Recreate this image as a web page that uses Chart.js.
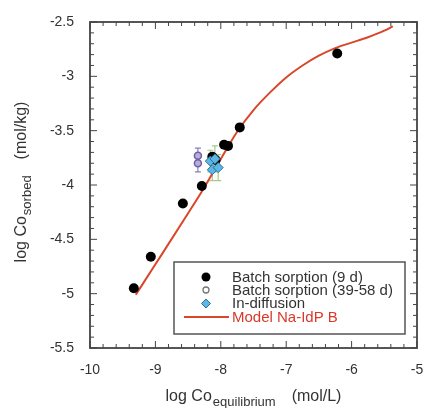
<!DOCTYPE html>
<html><head><meta charset="utf-8">
<script src="https://cdn.jsdelivr.net/npm/chart.js@4"></script>
<style>html,body{margin:0;padding:0;background:#fff}canvas{display:block}</style>
</head><body>
<canvas id="c" width="425" height="408"></canvas>
<script>
// ---- data ----
const batch9X = [-9.33, -9.07, -8.58, -8.29, -8.13, -8.08, -7.95, -7.89, -7.71, -6.22];
const batch9Y = [-4.95, -4.66, -4.17, -4.01, -3.74, -3.77, -3.63, -3.64, -3.47, -2.79];

const batch39X = [-8.35, -8.35];
const batch39Y = [-3.73, -3.80];
const batch39Err = [0.07, 0.08];

const inDiffX = [-8.16, -8.09, -8.13, -8.04];
const inDiffY = [-3.78, -3.76, -3.86, -3.84];
const inDiffErr = [0.10, 0.12, 0.10, 0.12];

const modelX = [-9.30, -9.00, -8.50, -8.25, -8.00, -7.75, -7.50, -7.25, -7.00, -6.75, -6.50, -6.25, -6.00, -5.75, -5.50, -5.37];
const modelY = [-5.01, -4.73, -4.26, -4.02, -3.76, -3.51, -3.31, -3.15, -3.01, -2.90, -2.81, -2.74, -2.69, -2.64, -2.58, -2.54];

const legendLabels = ['Batch sorption (9 d)', 'Batch sorption (39-58 d)', 'In-diffusion', 'Model Na-IdP B'];
const xTitle = ['log Co', 'equilibrium', '(mol/L)'];
const yTitle = ['log Co', 'sorbed', '(mol/kg)'];

const FONT = '"Liberation Sans", Arial, Helvetica, sans-serif';
const pts = (xs, ys) => xs.map((v, i) => ({x: v, y: ys[i]}));

const errorBars = {
  id: 'errorBars',
  beforeDatasetsDraw(chart) {
    const {ctx, scales: {x, y}} = chart;
    const draw = (xs, ys, es, color) => {
      ctx.save();
      ctx.strokeStyle = color; ctx.lineWidth = 1.2;
      ctx.beginPath();
      xs.forEach((v, i) => {
        const px = x.getPixelForValue(v);
        const p1 = y.getPixelForValue(ys[i] + es[i]);
        const p2 = y.getPixelForValue(ys[i] - es[i]);
        ctx.moveTo(px, p1); ctx.lineTo(px, p2);
        ctx.moveTo(px - 3, p1); ctx.lineTo(px + 3, p1);
        ctx.moveTo(px - 3, p2); ctx.lineTo(px + 3, p2);
      });
      ctx.stroke();
      ctx.restore();
    };
    draw(inDiffX, inDiffY, inDiffErr, '#a9c98c');
    draw(batch39X, batch39Y, batch39Err, '#8c7cbc');
  }
};

const frameTicks = {
  id: 'frameTicks',
  afterDatasetsDraw(chart) {
    const {ctx, chartArea: a, scales: {x, y}} = chart;
    ctx.save();
    ctx.strokeStyle = '#444';
    ctx.lineWidth = 1;
    ctx.beginPath();
    const xMinor = 0.2, yMinor = 0.1;
    for (let i = 0; i <= Math.round((x.max - x.min) / xMinor); i++) {
      const px = x.getPixelForValue(x.min + i * xMinor);
      const L = (i % 5 === 0) ? 7 : 4;
      ctx.moveTo(px, a.bottom); ctx.lineTo(px, a.bottom - L);
      ctx.moveTo(px, a.top); ctx.lineTo(px, a.top + L);
    }
    for (let i = 0; i <= Math.round((y.max - y.min) / yMinor); i++) {
      const py = y.getPixelForValue(y.min + i * yMinor);
      const L = (i % 5 === 0) ? 7 : 4;
      ctx.moveTo(a.left, py); ctx.lineTo(a.left + L, py);
      ctx.moveTo(a.right, py); ctx.lineTo(a.right - L, py);
    }
    ctx.stroke();
    ctx.lineWidth = 1.8;
    ctx.strokeRect(a.left, a.top, a.right - a.left, a.bottom - a.top);
    ctx.restore();
  }
};

function subTitle(ctx, parts, mainSize, subSize, gap) {
  ctx.font = mainSize + 'px ' + FONT;
  const w1 = ctx.measureText(parts[0]).width;
  const w3 = ctx.measureText(parts[2]).width;
  ctx.font = subSize + 'px ' + FONT;
  const w2 = ctx.measureText(parts[1]).width;
  const total = w1 + 1 + w2 + gap + w3;
  let cx = -total / 2;
  ctx.textAlign = 'left'; ctx.textBaseline = 'alphabetic';
  ctx.font = mainSize + 'px ' + FONT;
  ctx.fillText(parts[0], cx, 0); cx += w1 + 1;
  ctx.font = subSize + 'px ' + FONT;
  ctx.fillText(parts[1], cx, 5); cx += w2 + gap;
  ctx.font = mainSize + 'px ' + FONT;
  ctx.fillText(parts[2], cx, 0);
}

const titles = {
  id: 'titles',
  afterDraw(chart) {
    const {ctx, chartArea: a} = chart;
    ctx.save();
    ctx.fillStyle = '#333';
    ctx.translate((a.left + a.right) / 2, 401);
    subTitle(ctx, xTitle, 16, 13, 16);
    ctx.restore();
    ctx.save();
    ctx.fillStyle = '#333';
    ctx.translate(26, (a.top + a.bottom) / 2 - 3);
    ctx.rotate(-Math.PI / 2);
    subTitle(ctx, yTitle, 16, 13, 16);
    ctx.restore();
  }
};

const boxLegend = {
  id: 'boxLegend',
  afterDraw(chart) {
    const {ctx} = chart;
    const bx = 174, by = 262, bw = 231, bh = 72;
    ctx.save();
    ctx.fillStyle = '#fff';
    ctx.fillRect(bx, by, bw, bh);
    ctx.strokeStyle = '#555'; ctx.lineWidth = 1.5;
    ctx.strokeRect(bx, by, bw, bh);
    const rows = [277, 290, 303.5, 317];
    const mx = 206, tx = 232;
    ctx.fillStyle = '#000';
    ctx.beginPath(); ctx.arc(mx, rows[0], 4.5, 0, Math.PI * 2); ctx.fill();
    ctx.strokeStyle = '#777'; ctx.lineWidth = 1.3;
    ctx.beginPath(); ctx.arc(mx, rows[1], 3, 0, Math.PI * 2); ctx.stroke();
    ctx.fillStyle = '#5bb8e6'; ctx.strokeStyle = '#2d6f96'; ctx.lineWidth = 1;
    ctx.beginPath();
    ctx.moveTo(mx, rows[2] - 4.5); ctx.lineTo(mx + 4.5, rows[2]); ctx.lineTo(mx, rows[2] + 4.5); ctx.lineTo(mx - 4.5, rows[2]); ctx.closePath();
    ctx.fill(); ctx.stroke();
    ctx.strokeStyle = '#d9472a'; ctx.lineWidth = 2;
    ctx.beginPath(); ctx.moveTo(184, rows[3]); ctx.lineTo(229, rows[3]); ctx.stroke();
    ctx.font = '15px ' + FONT;
    ctx.textAlign = 'left'; ctx.textBaseline = 'middle';
    legendLabels.forEach((t, i) => {
      ctx.fillStyle = i === 3 ? '#d9382a' : '#333';
      ctx.fillText(t, tx, rows[i] + 0.5);
    });
    ctx.restore();
  }
};

new Chart(document.getElementById('c'), {
  type: 'scatter',
  data: {
    datasets: [
      {label: legendLabels[2], data: pts(inDiffX, inDiffY), pointStyle: 'rectRot', pointRadius: 5,
       backgroundColor: '#5bb8e6', borderColor: '#2d6f96', borderWidth: 1},
      {label: legendLabels[1], data: pts(batch39X, batch39Y), pointStyle: 'circle', pointRadius: 3.5,
       backgroundColor: '#b9addb', borderColor: '#6f5ea3', borderWidth: 1.5},
      {label: legendLabels[0], data: pts(batch9X, batch9Y), pointStyle: 'circle', pointRadius: 5,
       backgroundColor: '#000', borderColor: '#000', borderWidth: 0},
      {label: legendLabels[3], type: 'line', data: pts(modelX, modelY), showLine: true,
       borderColor: '#d9472a', borderWidth: 2, pointRadius: 0, fill: false,
       cubicInterpolationMode: 'monotone'}
    ]
  },
  options: {
    responsive: false,
    animation: false,
    layout: {padding: {top: 22, right: 8, left: 0, bottom: 0}},
    plugins: {legend: {display: false}, tooltip: {enabled: false}},
    scales: {
      x: {
        type: 'linear', min: -10, max: -5,
        grid: {display: false}, border: {display: false},
        afterFit: s => { s.height = 60; s.paddingRight = 0; s.paddingLeft = 0; },
        ticks: {stepSize: 1, autoSkip: false, maxRotation: 0, padding: 6, color: '#333',
                font: {family: FONT, size: 14}}
      },
      y: {
        type: 'linear', min: -5.5, max: -2.5,
        grid: {display: false}, border: {display: false},
        afterFit: s => { s.width = 90; s.paddingTop = 0; s.paddingBottom = 0; },
        ticks: {stepSize: 0.5, autoSkip: false, padding: 8, color: '#333',
                font: {family: FONT, size: 14},
                callback: v => String(Math.round(v * 10) / 10)}
      }
    }
  },
  plugins: [errorBars, frameTicks, titles, boxLegend]
});
</script>
</body></html>
